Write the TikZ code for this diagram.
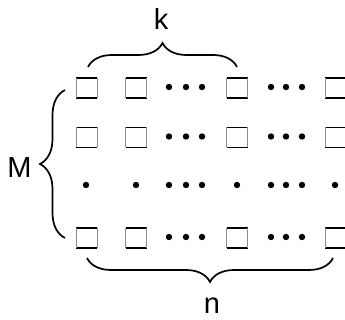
\documentclass[tikz,border=0pt]{standalone}
\usepackage{fontspec}
\setmainfont{Liberation Sans}
\usetikzlibrary{decorations.pathreplacing}
\begin{document}
\begin{tikzpicture}[x=1pt,y=-1pt,
  hbar/.style={draw=black,line width=1.9pt},
  vbar/.style={draw=black!45,line width=1pt},
  cell/.style={minimum width=21pt,minimum height=20pt,inner sep=0pt,outer sep=0pt,
    append after command={
      (\tikzlastnode.north west) edge[hbar] (\tikzlastnode.north east)
      (\tikzlastnode.south west) edge[hbar] (\tikzlastnode.south east)
      (\tikzlastnode.north west) edge[vbar] (\tikzlastnode.south west)
      (\tikzlastnode.north east) edge[vbar] (\tikzlastnode.south east)}},
  pt/.style={circle,fill=black,inner sep=0pt,minimum size=6.4pt},
  lbl/.style={font=\fontsize{29}{32}\selectfont,anchor=base,inner sep=0pt},
  curly/.style={decorate,decoration={brace,amplitude=24pt},line width=1.7pt}]
\fill[white] (0,0) rectangle (345,320);
\useasboundingbox (0,0) rectangle (345,320);
% square cells: rows 1, 2 and the last row
\foreach \r/\y in {1/88,2/137.5,4/238}{
  \foreach \c/\x in {1/86.5,2/136,3/237,4/335.5}
    \node[cell] (c\r\c) at (\x,\y) {};
  \foreach \d/\x in {a/169,b/186,c/202,d/271,e/286,f/302}
    \node[pt] (d\r\d) at (\x,\y-1) {};
}
% row of dots standing for the middle rows
\foreach \d/\x in {1/86,2/136,a/169,b/186,c/202,3/237,d/271,e/286,f/302,4/335}
  \node[pt] (m\d) at (\x,185) {};
% braces
\coordinate (kL) at (88,67);
\coordinate (kR) at (237,67);
\coordinate (nL) at (87,258);
\coordinate (nR) at (333,258);
\coordinate (mT) at (65,90);
\coordinate (mB) at (65,238);
\draw[curly] (kL) -- (kR);
\draw[curly] (nR) -- (nL);
\draw[curly,decoration={brace,amplitude=25pt}] (mB) -- (mT);
% labels
\node[lbl] (k) at (161,30) {k};
\node[lbl] (n) at (212,313) {n};
\node[lbl] (M) at (19.5,178) {M};
\end{tikzpicture}
\end{document}
